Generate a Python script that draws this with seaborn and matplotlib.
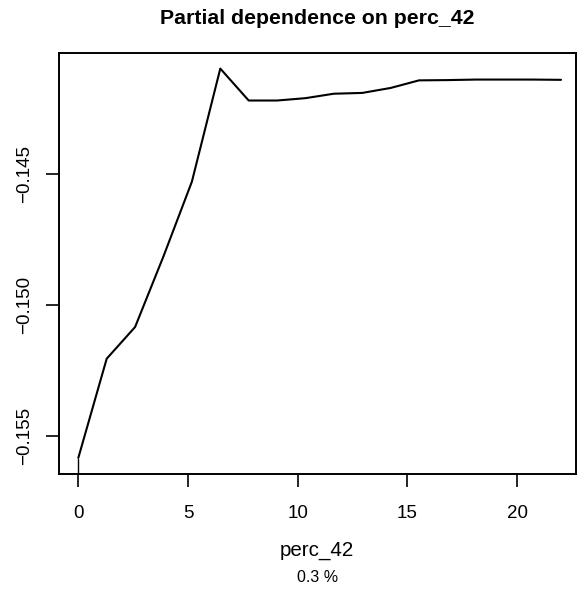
import numpy as np
import pandas as pd
import matplotlib
matplotlib.use("Agg")
import matplotlib.pyplot as plt
import seaborn as sns

# Data
perc_42 = [0.0, 1.294, 2.588, 3.882, 5.176, 6.471, 7.765, 9.059, 10.353,
           11.647, 12.941, 14.235, 15.529, 16.824, 18.118, 19.412, 20.706, 22.0]
partial_dep = [-0.15583, -0.15204, -0.15083, -0.14813, -0.14528, -0.14096,
               -0.14218, -0.14218, -0.14209, -0.14192, -0.14189, -0.14170,
               -0.14141, -0.14140, -0.14138, -0.14138, -0.14138, -0.14139]
rug_positions = [0.0]
x_ticks = [0, 5, 10, 15, 20]
y_ticks = [-0.155, -0.150, -0.145]
y_tick_labels = ["\u22120.155", "\u22120.150", "\u22120.145"]

df = pd.DataFrame({"perc_42": perc_42, "pd": partial_dep})

sns.set_theme(style="white")
plt.rcParams["font.family"] = ["Liberation Sans", "DejaVu Sans"]
plt.rcParams["axes.edgecolor"] = "black"
plt.rcParams["axes.linewidth"] = 1.4

W, H = 582, 593
fig = plt.figure(figsize=(W / 100, H / 100), dpi=100)
ax = fig.add_axes([59 / W, (H - 473.5) / H, (575.5 - 59) / W, (473.5 - 53) / H])

sns.lineplot(data=df, x="perc_42", y="pd", ax=ax, color="black", linewidth=1.5)

# rug
for r in rug_positions:
    ax.plot([r, r], [0, 0.035], transform=ax.get_xaxis_transform(),
            color="black", linewidth=1.0)

xmin, xmax = min(perc_42), max(perc_42)
ymin, ymax = min(partial_dep), max(partial_dep)
ax.set_xlim(xmin - 0.04 * (xmax - xmin), xmax + 0.03 * (xmax - xmin))
ax.set_ylim(ymin - 0.04 * (ymax - ymin), ymax + 0.04 * (ymax - ymin))

ax.set_xticks(x_ticks)
ax.set_xticklabels([str(t) for t in x_ticks])
ax.set_yticks(y_ticks)
ax.set_yticklabels(y_tick_labels, rotation=90, va="center")

ax.tick_params(axis="both", which="major", bottom=True, left=True,
               direction="out", length=9.5, width=1.2, color="black",
               labelsize=13.5, labelcolor="black")
ax.tick_params(axis="x", pad=13)
ax.tick_params(axis="y", pad=9)
for s in ax.spines.values():
    s.set_visible(True)
    s.set_color("black")

ax.set_xlabel("")
ax.set_ylabel("")
fig.text((59 + 575.5) / 2 / W, 1 - 551 / H, "perc_42", ha="center", va="center",
         fontsize=14.8, color="black")
fig.text((59 + 575.5) / 2 / W, 1 - 578 / H, "0.3 %", ha="center", va="center",
         fontsize=11.5, color="black")
fig.text((59 + 575.5) / 2 / W, 1 - 19 / H, "Partial dependence on perc_42",
         ha="center", va="center", fontsize=15.3, fontweight="bold", color="black")

fig.savefig("out.png", dpi=100)
